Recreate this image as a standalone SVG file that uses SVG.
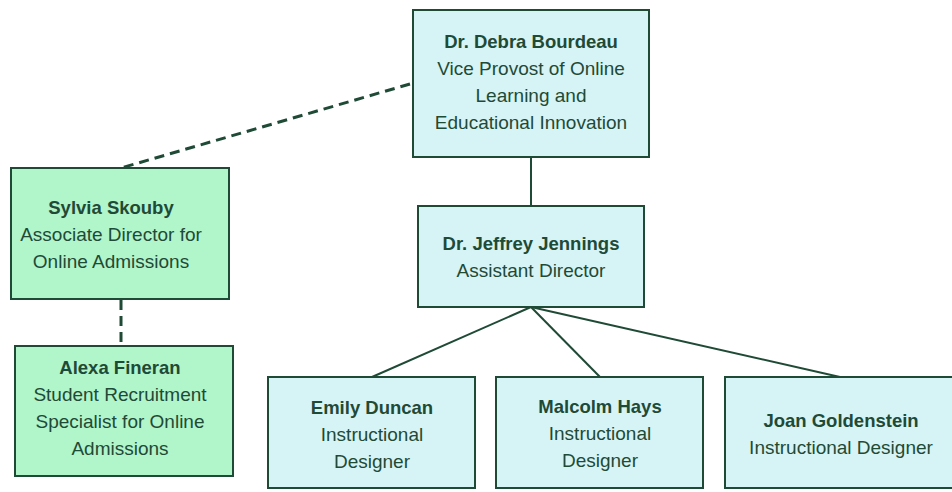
<svg xmlns="http://www.w3.org/2000/svg" width="952" height="492" viewBox="0 0 952 492">
<style>
.box{stroke:#1f4a36;stroke-width:2}
.cyan{fill:#d6f4f5}
.green{fill:#b1f5cb}
text{font-family:"Liberation Sans",Arial,sans-serif;font-size:19px;fill:#1f4a36;text-anchor:middle}
.b{font-weight:bold;font-size:18.5px}
.c{stroke:#1f4a36;stroke-width:2;fill:none}
.d{stroke-dasharray:10,6;stroke-width:3}
</style>
<rect width="952" height="492" fill="#ffffff"/>
<g id="connectors">
<line class="c d" x1="410" y1="84" x2="121" y2="168"/>
<line class="c d" x1="121" y1="300" x2="121" y2="346"/>
<line class="c" x1="531" y1="157" x2="531" y2="206"/>
<line class="c" x1="531" y1="307" x2="372" y2="377"/>
<line class="c" x1="531" y1="307" x2="600" y2="377"/>
<line class="c" x1="531" y1="307" x2="840" y2="377"/>
</g>
<g id="debra">
<rect class="box cyan" x="413" y="10" width="236" height="147"/>
<text class="b" x="531" y="48">Dr. Debra Bourdeau</text>
<text x="531" y="75">Vice Provost of Online</text>
<text x="531" y="102">Learning and</text>
<text x="531" y="129">Educational Innovation</text>
</g>
<g id="sylvia">
<rect class="box green" x="11" y="168" width="218" height="131"/>
<text class="b" x="111" y="214">Sylvia Skouby</text>
<text x="111" y="241">Associate Director for</text>
<text x="111" y="268">Online Admissions</text>
</g>
<g id="alexa">
<rect class="box green" x="15" y="346" width="218" height="130"/>
<text class="b" x="120" y="374">Alexa Fineran</text>
<text x="120" y="401">Student Recruitment</text>
<text x="120" y="428">Specialist for Online</text>
<text x="120" y="455">Admissions</text>
</g>
<g id="jeffrey">
<rect class="box cyan" x="418" y="206" width="226" height="101"/>
<text class="b" x="531" y="250">Dr. Jeffrey Jennings</text>
<text x="531" y="277">Assistant Director</text>
</g>
<g id="emily">
<rect class="box cyan" x="268" y="377" width="207" height="111"/>
<text class="b" x="372" y="414">Emily Duncan</text>
<text x="372" y="441">Instructional</text>
<text x="372" y="468">Designer</text>
</g>
<g id="malcolm">
<rect class="box cyan" x="496" y="377" width="207" height="111"/>
<text class="b" x="600" y="413">Malcolm Hays</text>
<text x="600" y="440">Instructional</text>
<text x="600" y="467">Designer</text>
</g>
<g id="joan">
<rect class="box cyan" x="725" y="377" width="240" height="111"/>
<text class="b" x="841" y="427">Joan Goldenstein</text>
<text x="841" y="454">Instructional Designer</text>
</g>
</svg>
